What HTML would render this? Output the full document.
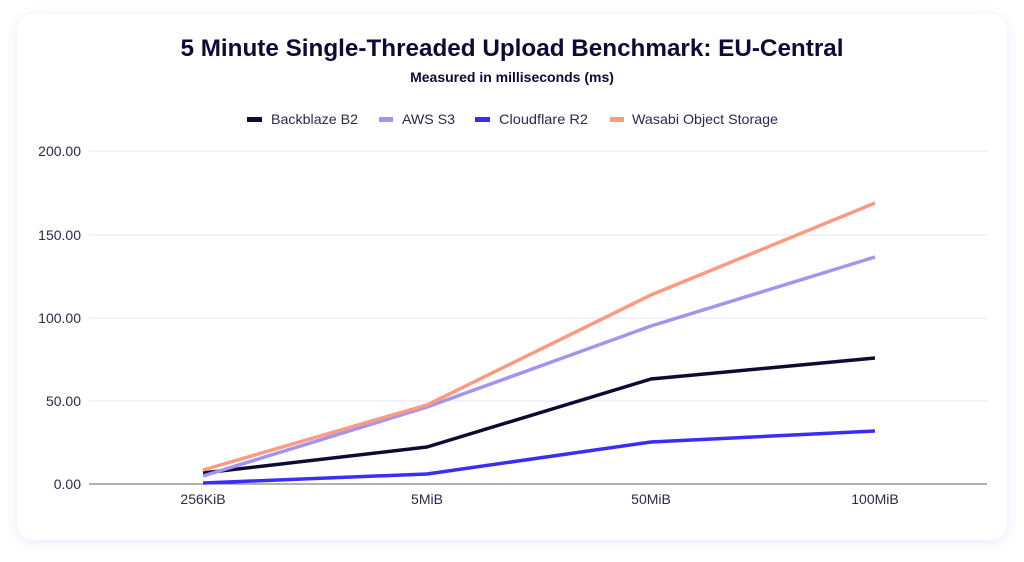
<!DOCTYPE html>
<html><head><meta charset="utf-8"><style>
body{margin:0;background:#fff;width:1024px;height:562px;overflow:hidden;font-family:"Liberation Sans",sans-serif}
.card{position:absolute;left:17px;top:14px;width:990px;height:526px;border-radius:16px;background:#fff;box-shadow:0 2px 12px rgba(120,120,220,0.18)}
</style></head><body>
<div class="card"></div>
<svg width="1024" height="562" style="position:absolute;left:0;top:0" font-family="Liberation Sans, sans-serif">
<text x="512" y="56" text-anchor="middle" font-size="24" font-weight="bold" fill="#0c0b33" textLength="663" lengthAdjust="spacingAndGlyphs">5 Minute Single-Threaded Upload Benchmark: EU-Central</text>
<text x="512" y="82" text-anchor="middle" font-size="14" font-weight="bold" fill="#0c0b33">Measured in milliseconds (ms)</text>
<g font-size="14" fill="#2a2a4a">
<rect x="247" y="117" width="15" height="5" fill="#0c0b33"/><text x="271" y="124" textLength="87" lengthAdjust="spacingAndGlyphs">Backblaze B2</text>
<rect x="379" y="117" width="14" height="5" fill="#a394f0"/><text x="402" y="124" textLength="53" lengthAdjust="spacingAndGlyphs">AWS S3</text>
<rect x="475" y="117" width="15" height="5" fill="#3a2ef5"/><text x="499" y="124" textLength="89" lengthAdjust="spacingAndGlyphs">Cloudflare R2</text>
<rect x="610" y="117" width="14" height="5" fill="#fc9a82"/><text x="632" y="124" textLength="146" lengthAdjust="spacingAndGlyphs">Wasabi Object Storage</text>
</g>
<g stroke="#e6e6fb" stroke-width="1">
<line x1="89" x2="987" y1="151" y2="151"/><line x1="89" x2="987" y1="235" y2="235"/><line x1="89" x2="987" y1="318" y2="318"/><line x1="89" x2="987" y1="401" y2="401"/>
</g>
<line x1="89" x2="987" y1="484" y2="484" stroke="#666" stroke-width="1"/>
<g font-size="14" fill="#2a2a4a" text-anchor="end">
<text x="81" y="156">200.00</text><text x="81" y="240">150.00</text><text x="81" y="323">100.00</text><text x="81" y="406">50.00</text><text x="81" y="489">0.00</text>
</g>
<g font-size="14" fill="#2a2a4a" text-anchor="middle">
<text x="203" y="504">256KiB</text><text x="427" y="504">5MiB</text><text x="651" y="504">50MiB</text><text x="875" y="504">100MiB</text>
</g>
<g fill="none" stroke-width="3.5" stroke-linejoin="round">
<polyline stroke="#3a2ef5" points="203,483 427,474 651,442 875,431"/>
<polyline stroke="#0c0b33" points="203,473 427,447 651,379 875,358"/>
<polyline stroke="#a394f0" points="203,476 427,407 651,326 875,257"/>
<polyline stroke="#fc9a82" points="203,470 427,405 651,295 875,203"/>
</g>
</svg>
</body></html>
